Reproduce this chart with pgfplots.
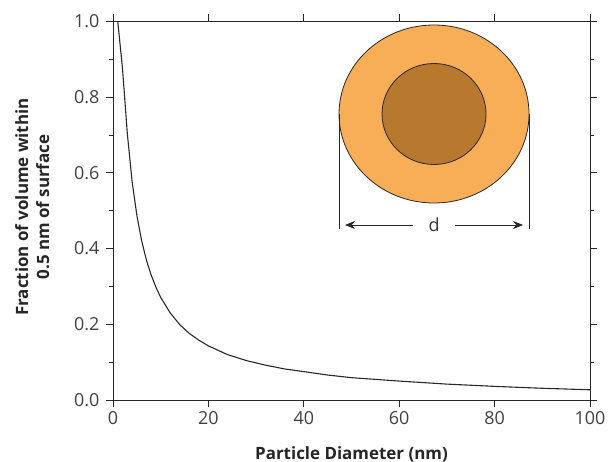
\documentclass[border=0pt]{standalone}
\usepackage{fontspec}
\setmainfont{Open Sans}
\usepackage{pgfplots}
\pgfplotsset{compat=1.18}
\usetikzlibrary{arrows.meta}
\definecolor{shell}{RGB}{247,174,86}
\definecolor{core}{RGB}{184,120,46}
\definecolor{ink}{RGB}{40,40,40}

\begin{document}
\begin{tikzpicture}
% page frame: plot area sits at (0,0)--(477bp,378.5bp)
\useasboundingbox (-113bp,-62bp) rectangle (495bp,400bp);
\begin{axis}[
  at={(0,0)}, anchor=south west,
  scale only axis, width=477bp, height=378.5bp,
  xmin=0, xmax=100, ymin=0, ymax=1,
  xtick={0,20,40,60,80,100},
  ytick={0,0.2,0.4,0.6,0.8,1.0},
  minor ytick={0.1,0.3,0.5,0.7,0.9},
  tick align=outside,
  major tick length=7bp, minor tick length=3.5bp,
  tick style={ink, line width=0.8bp},
  axis line style={ink, line width=0.8bp},
  /pgf/number format/assume math mode=true,
  ticklabel style={font=\fontsize{18}{21}\selectfont, text=black!75},
  xticklabel style={yshift=-1bp},
  yticklabel style={xshift=-3bp, /pgf/number format/.cd, fixed, fixed zerofill, precision=1},
  xlabel={Particle Diameter (nm)},
  ylabel={Fraction of volume within\\0.5 nm of surface},
  label style={font=\bfseries\fontsize{17}{21}\selectfont, text=black!85},
  xlabel style={at={(axis description cs:0.5,-0.1559)}, anchor=base},
  ylabel style={align=center, at={(axis description cs:-0.126,0.51)}, anchor=south},
  clip=false,
]
\addplot[ink, line width=1.1bp] coordinates {
  (1,1.000) (2,0.875) (3,0.704) (4,0.578) (5,0.488) (6,0.421) (7,0.370)
  (8,0.330) (9,0.298) (10,0.271) (12,0.230) (14,0.199) (16,0.176)
  (18,0.158) (20,0.143) (24,0.120) (28,0.104) (32,0.092) (36,0.082)
  (40,0.075) (45,0.066) (50,0.059) (60,0.050) (70,0.042) (80,0.036)
  (90,0.031) (100,0.027)
};
% particle sketch: surface shell around the core
\coordinate (c) at (axis cs:67.3,0.7556);
\filldraw[fill=shell, draw=ink, line width=0.8bp] (c) ellipse [x radius=95bp, y radius=89bp];
\filldraw[fill=core, draw=ink, line width=0.8bp] (c) ellipse [x radius=52bp, y radius=50.5bp];
\draw[ink, line width=0.8bp] (c) ++(-95bp,0) -- ++(0,-115bp);
\draw[ink, line width=0.8bp] (c) ++(95bp,0) -- ++(0,-115bp);
\draw[ink, line width=0.8bp, -{Stealth[length=10bp,width=8bp]}] (c) ++(-21bp,-111bp) -- ++(-68bp,0);
\draw[ink, line width=0.8bp, -{Stealth[length=10bp,width=8bp]}] (c) ++(21bp,-111bp) -- ++(68bp,0);
\node[text=black!80, font=\fontsize{18}{21}\selectfont] at ([yshift=-111bp]c) {d};
\end{axis}
\end{tikzpicture}
\end{document}
